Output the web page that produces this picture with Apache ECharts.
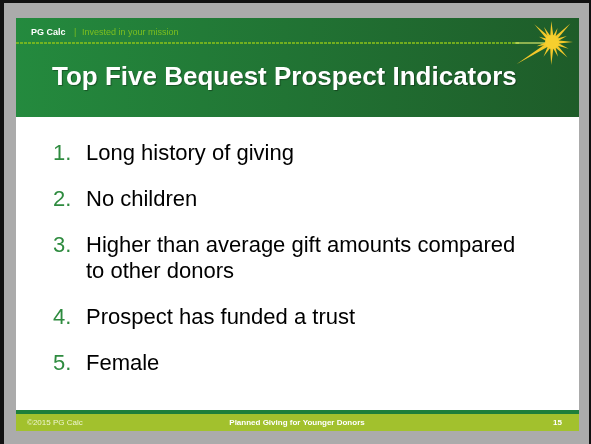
<!DOCTYPE html>
<html><head><meta charset="utf-8">
<script src="https://cdn.jsdelivr.net/npm/echarts@6/dist/echarts.min.js"></script>
<style>html,body{margin:0;padding:0;background:#ababab}#c{width:591px;height:444px}</style>
</head><body><div id="c"></div>
<script>
var brandName = 'PG Calc';
var tagline = 'Invested in your mission';
var slideTitle = 'Top Five Bequest Prospect Indicators';
var itemNumbers = ['1.', '2.', '3.', '4.', '5.'];
var itemLines = [
  ['Long history of giving'],
  ['No children'],
  ['Higher than average gift amounts compared', 'to other donors'],
  ['Prospect has funded a trust'],
  ['Female']
];
var footerTexts = ['\u00a92015 PG Calc', 'Planned Giving for Younger Donors', '15'];

var FONT = '"Liberation Sans", Arial, sans-serif';
var chart = echarts.init(document.getElementById('c'), null, {renderer: 'canvas'});
var g = [];
// background + frame
g.push({type: 'rect', shape: {x: 0, y: 0, width: 591, height: 444}, style: {fill: '#ababab'}});
g.push({type: 'rect', shape: {x: 0, y: 0, width: 591, height: 3}, style: {fill: '#111'}});
g.push({type: 'rect', shape: {x: 0, y: 0, width: 4, height: 444}, style: {fill: '#111'}});
g.push({type: 'rect', shape: {x: 589, y: 0, width: 2, height: 444}, style: {fill: '#111'}});
// slide white
g.push({type: 'rect', shape: {x: 16, y: 18, width: 563, height: 392}, style: {fill: '#ffffff'}});
// header
g.push({type: 'rect', shape: {x: 16, y: 18, width: 563, height: 99},
  style: {fill: new echarts.graphic.LinearGradient(0, 0, 1, 0, [
    {offset: 0, color: '#248a3e'}, {offset: 1, color: '#1e5c29'}])}});
// dashed line
g.push({type: 'line', shape: {x1: 16, y1: 43, x2: 520, y2: 43},
  style: {stroke: '#8cc21a', lineWidth: 1.5, lineDash: [3, 1]}});
g.push({type: 'line', shape: {x1: 515, y1: 43, x2: 545, y2: 43},
  style: {stroke: '#d8e86a', lineWidth: 1.2}});
// sunburst
var cx = 552, cy = 42;
var rays = [[0, 21], [22, 16], [45, 26], [68, 15], [92, 21], [118, 17], [135, 25], [158, 14], [195, 16], [212, 42], [240, 17], [268, 23], [292, 16], [315, 22], [338, 18]];
rays.forEach(function (r) {
  var a = r[0] * Math.PI / 180, L = r[1];
  var px = -Math.sin(a), py = -Math.cos(a), w = 2.2;
  g.push({type: 'polygon', shape: {points: [
    [cx + px * w, cy + py * w], [cx + Math.cos(a) * L, cy - Math.sin(a) * L], [cx - px * w, cy - py * w]]},
    style: {fill: '#f4c82a'}});
});
g.push({type: 'circle', shape: {cx: cx, cy: cy, r: 7}, style: {fill: '#f6cf2e'}});
// brand
g.push({type: 'text', x: 31, y: 33, style: {text: brandName, font: 'bold 9px ' + FONT, fill: '#ffffff', verticalAlign: 'middle'}});
g.push({type: 'text', x: 74, y: 33, style: {text: '|', font: '9px ' + FONT, fill: '#7dbf1f', verticalAlign: 'middle'}});
g.push({type: 'text', x: 82, y: 33, style: {text: tagline, font: '9px ' + FONT, fill: '#7dbf1f', verticalAlign: 'middle'}});
// title
g.push({type: 'text', x: 52, y: 78, style: {text: slideTitle, font: 'bold 26px ' + FONT, fill: '#ffffff', verticalAlign: 'middle',
  textShadowColor: 'rgba(0,0,0,0.35)', textShadowOffsetX: 1, textShadowOffsetY: 1, textShadowBlur: 1}});
// list
var y = 154;
itemNumbers.forEach(function (n, i) {
  g.push({type: 'text', x: 53, y: y, style: {text: n, font: '22px ' + FONT, fill: '#2e8b3f', verticalAlign: 'middle'}});
  itemLines[i].forEach(function (ln, j) {
    g.push({type: 'text', x: 86, y: y + j * 26, style: {text: ln, font: '22px ' + FONT, fill: '#000000', verticalAlign: 'middle'}});
  });
  y += 46 + (itemLines[i].length - 1) * 26;
});
// footer
g.push({type: 'rect', shape: {x: 16, y: 410, width: 563, height: 4}, style: {fill: '#1e7f3a'}});
g.push({type: 'rect', shape: {x: 16, y: 414, width: 563, height: 17}, style: {fill: '#a2c12d'}});
g.push({type: 'text', x: 27, y: 422.5, style: {text: footerTexts[0], font: '8px ' + FONT, fill: '#eef5d0', verticalAlign: 'middle'}});
g.push({type: 'text', x: 297, y: 422.5, style: {text: footerTexts[1], font: 'bold 8px ' + FONT, fill: '#ffffff', align: 'center', verticalAlign: 'middle'}});
g.push({type: 'text', x: 562, y: 422.5, style: {text: footerTexts[2], font: 'bold 8px ' + FONT, fill: '#ffffff', align: 'right', verticalAlign: 'middle'}});

chart.setOption({animation: false, graphic: {elements: g}});
</script></body></html>
